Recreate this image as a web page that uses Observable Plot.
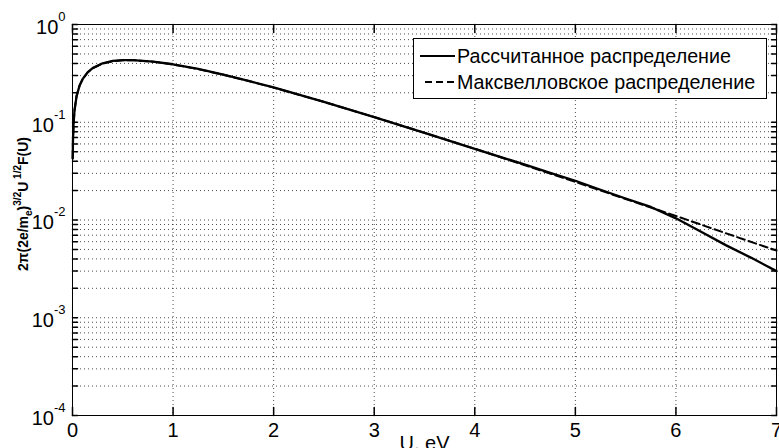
<!DOCTYPE html>
<html><head><meta charset="utf-8">
<script src="https://cdn.jsdelivr.net/npm/d3@7"></script>
<script src="https://cdn.jsdelivr.net/npm/@observablehq/plot@0.6"></script>
<style>
body{margin:0;background:#fff;}
#wrap{position:relative;width:779px;height:448px;overflow:hidden;background:#fff;font-family:"Liberation Sans",Arial,sans-serif;}
#legend{position:absolute;left:413px;top:38px;width:352px;height:59px;border:1px solid #000;background:#fff;}
.row{position:absolute;left:0;height:26px;display:flex;align-items:center;font-size:19.7px;color:#000;white-space:nowrap;}
.sample{width:35px;height:2px;margin-left:6px;margin-right:2px;background:#000;}
.dashed{width:30px;margin-left:11px;background:repeating-linear-gradient(to right,#000 0 7px,transparent 7px 11px);}
</style></head><body><div id="wrap"></div>
<script>
// Series
const calcU = [0.002, 0.005, 0.01, 0.02, 0.04, 0.07, 0.1, 0.15, 0.2, 0.3, 0.4, 0.5, 0.6, 0.8, 1.0, 1.25, 1.5, 1.75, 2.0, 2.5, 3.0, 3.5, 4.0, 4.5, 4.75, 5.0, 5.25, 5.5, 5.75, 6.0, 6.25, 6.5, 6.75, 7.0];
const calcF = [0.0425, 0.067, 0.094, 0.132, 0.184, 0.237, 0.276, 0.324, 0.358, 0.401, 0.424, 0.432, 0.432, 0.418, 0.392, 0.351, 0.307, 0.265, 0.227, 0.162, 0.113, 0.078, 0.0535, 0.0368, 0.0303, 0.0252, 0.0204, 0.0166, 0.0136, 0.0104, 0.0076, 0.0055, 0.0041, 0.0030];
const maxwU = [0.002, 0.005, 0.01, 0.02, 0.04, 0.07, 0.1, 0.15, 0.2, 0.3, 0.4, 0.5, 0.6, 0.8, 1.0, 1.25, 1.5, 1.75, 2.0, 2.5, 3.0, 3.5, 4.0, 4.5, 5.0, 5.5, 6.0, 6.5, 7.0];
const maxwF = [0.0425, 0.067, 0.094, 0.132, 0.184, 0.237, 0.275, 0.323, 0.356, 0.399, 0.421, 0.431, 0.432, 0.417, 0.390, 0.349, 0.306, 0.264, 0.226, 0.1615, 0.113, 0.078, 0.0535, 0.0363, 0.0245, 0.0164, 0.0110, 0.0073, 0.00486];
const seriesNames = ["Рассчитанное распределение", "Максвелловское распределение"];
// Axis ticks
const xTicks = [0, 1, 2, 3, 4, 5, 6, 7];
const yTicks = [1e-4, 1e-3, 1e-2, 1e-1, 1];
const yTickExp = ["-4", "-3", "-2", "-1", "0"];
const mantissas = [1, 2, 3, 4, 5, 6, 7, 8, 9];
const xLabel = "U, eV";

const yGrid = [];
for (let e = -4; e < 0; e++) for (const m of mantissas) yGrid.push(m * Math.pow(10, e));
yGrid.push(1);

const calc = calcU.map((u, i) => ({u, f: calcF[i]}));
const maxw = maxwU.map((u, i) => ({u, f: maxwF[i]}));

const tickShape = {draw(ctx, l) { ctx.moveTo(0, 0); ctx.lineTo(0, -l); }};
const gridStyle = {stroke: "#000", strokeOpacity: 0.7, strokeWidth: 1, strokeDasharray: "1,3"};

const svg = Plot.plot({
  width: 779, height: 448,
  marginTop: 24, marginRight: 3, marginBottom: 33, marginLeft: 72,
  style: {fontFamily: '"Liberation Sans", Arial, sans-serif', fontSize: "20px", background: "#fff", color: "#000", overflow: "visible"},
  x: {domain: [0, 7]},
  y: {type: "log", domain: [1e-4, 1]},
  marks: [
    Plot.ruleY(yGrid, {y: d => d, ...gridStyle}),
    Plot.ruleX(xTicks, {x: d => d, ...gridStyle}),
    Plot.vector(xTicks, {x: d => d, y: () => 1e-4, length: 8, rotate: 0, anchor: "start", shape: tickShape, stroke: "#000"}),
    Plot.vector(xTicks, {x: d => d, y: () => 1, length: 8, rotate: 180, anchor: "start", shape: tickShape, stroke: "#000"}),
    Plot.vector(yGrid, {x: () => 0, y: d => d, length: 5, rotate: 90, anchor: "start", shape: tickShape, stroke: "#000"}),
    Plot.vector(yGrid, {x: () => 7, y: d => d, length: 5, rotate: 270, anchor: "start", shape: tickShape, stroke: "#000"}),
    Plot.line(maxw, {x: "u", y: "f", stroke: "#000", strokeWidth: 2, strokeDasharray: "8,4"}),
    Plot.line(calc, {x: "u", y: "f", stroke: "#000", strokeWidth: 2.3}),
    Plot.frame({stroke: "#000", strokeWidth: 1}),
    Plot.axisX({ticks: xTicks, tickSize: 0, tickPadding: 7, tickFormat: d => String(d), fontSize: 20, label: null}),
    Plot.axisY({ticks: yTicks, tickSize: 0, tickPadding: 7, dy: 3, tickFormat: d => "10|" + yTickExp[yTicks.indexOf(yTicks.find(t => Math.abs(Math.log10(t) - Math.log10(d)) < 1e-6))], fontSize: 20, label: null}),
    Plot.text([xLabel], {text: d => d, frameAnchor: "bottom", lineAnchor: "top", dy: 20, dx: 0, fontSize: 20})
  ]
});

const s = d3.select(svg);
// superscript exponents on y tick labels
s.selectAll('g[aria-label="y-axis tick label"] text').each(function() {
  const t = d3.select(this);
  const parts = t.text().split("|");
  t.text(null);
  t.append("tspan").text(parts[0]);
  t.append("tspan").attr("dy", "-13").attr("font-size", "13px").text(parts[1]);
});
// y axis title with sub/superscripts
const yt = s.append("text")
  .attr("transform", "translate(28,204) rotate(-90)")
  .attr("text-anchor", "middle")
  .attr("font-weight", "bold")
  .attr("font-size", "14px")
  .attr("fill", "#000");
yt.append("tspan").text("2π(2e/m");
yt.append("tspan").attr("font-size", "10px").attr("dy", "4").text("e");
yt.append("tspan").attr("dy", "-4").text(")");
yt.append("tspan").attr("font-size", "10px").attr("dy", "-7").text("3/2");
yt.append("tspan").attr("dy", "7").text("U");
yt.append("tspan").attr("font-size", "10px").attr("dy", "-7").text(" 1/2");
yt.append("tspan").attr("dy", "7").text("F(U)");

const wrap = document.getElementById("wrap");
wrap.appendChild(svg);
const leg = document.createElement("div");
leg.id = "legend";
leg.innerHTML = `<div class="row" style="top:4px"><div class="sample"></div><span>${seriesNames[0]}</span></div>
<div class="row" style="top:30px"><div class="sample dashed"></div><span>${seriesNames[1]}</span></div>`;
wrap.appendChild(leg);
</script>
</body></html>
